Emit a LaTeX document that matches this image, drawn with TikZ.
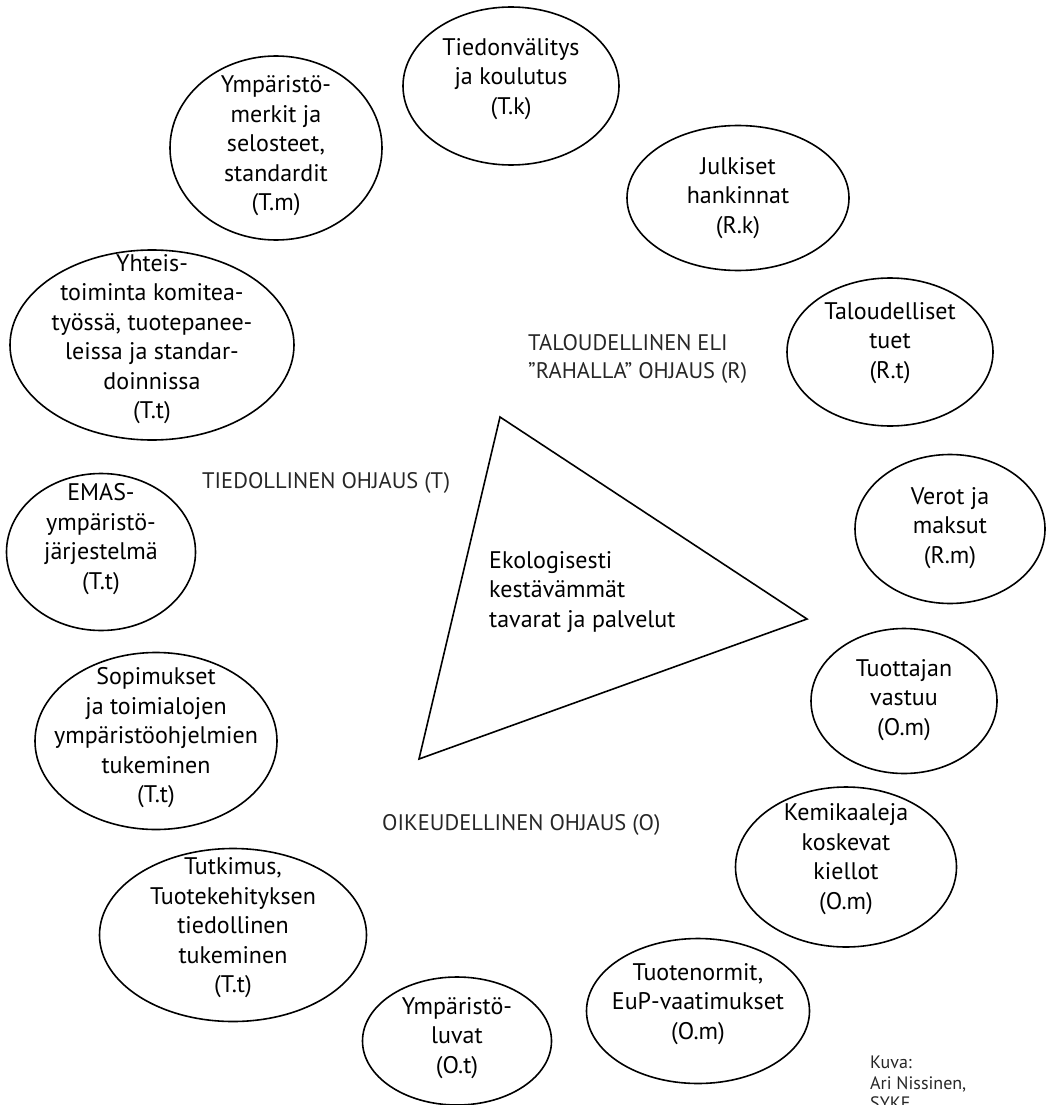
\documentclass[tikz,border=0pt]{standalone}
\usepackage{fontspec}
\setmainfont{PT Sans}
\usetikzlibrary{shapes.geometric}
\begin{document}
\begin{tikzpicture}[x=1pt,y=-1pt,
  ell/.style={draw, ellipse, line width=1.6pt, inner sep=0pt},
  txt/.style={align=center, font=\fontsize{24}{29.5}\selectfont, inner sep=0pt},
  lab/.style={align=left, font=\fontsize{22.5}{28}\selectfont, anchor=west, inner sep=0pt, text=black!85},
  note/.style={align=left, font=\fontsize{18}{20.5}\selectfont, anchor=west, inner sep=0pt, text=black!85},
]
\useasboundingbox (0,0) rectangle (1047,1105);

% ellipses
\node[ell, minimum width=216pt, minimum height=158pt] (tk) at (511,86) {};
\node[txt] (tkt) at (511,79) {Tiedonvälitys\\ja koulutus\\(T.k)};

\node[ell, minimum width=212pt, minimum height=184pt] (tm) at (276,148) {};
\node[txt] (tmt) at (276,146) {Ympäristö-\\merkit ja\\selosteet,\\standardit\\(T.m)};

\node[ell, minimum width=222pt, minimum height=145pt] (rk) at (738,198) {};
\node[txt] (rkt) at (738,198) {Julkiset\\hankinnat\\(R.k)};

\node[ell, minimum width=284pt, minimum height=190pt] (tt1) at (152,345) {};
\node[txt] (tt1t) at (152,339) {Yhteis-\\toiminta komitea-\\työssä, tuotepanee-\\leissa ja standar-\\doinnissa\\(T.t)};

\node[ell, minimum width=206pt, minimum height=148pt] (rt) at (890,352) {};
\node[txt] (rtt) at (890,343) {Taloudelliset\\tuet\\(R.t)};

\node[ell, minimum width=189pt, minimum height=157pt] (emas) at (101,552) {};
\node[txt] (emast) at (101,539) {EMAS-\\ympäristö-\\järjestelmä\\(T.t)};

\node[ell, minimum width=190pt, minimum height=149pt] (rm) at (950,529) {};
\node[txt] (rmt) at (950,528) {Verot ja\\maksut\\(R.m)};

\node[ell, minimum width=186pt, minimum height=145pt] (om1) at (904,701) {};
\node[txt] (om1t) at (904,700) {Tuottajan\\vastuu\\(O.m)};

\node[ell, minimum width=242pt, minimum height=177pt] (tt2) at (156,741) {};
\node[txt] (tt2t) at (156,738) {Sopimukset\\ja toimialojen\\ympäristöohjelmien\\tukeminen\\(T.t)};

\node[ell, minimum width=221pt, minimum height=160pt] (om2) at (846,867) {};
\node[txt] (om2t) at (846,859) {Kemikaaleja\\koskevat\\kiellot\\(O.m)};

\node[ell, minimum width=267pt, minimum height=173pt] (tt3) at (233,935) {};
\node[txt] (tt3t) at (233,928) {Tutkimus,\\Tuotekehityksen\\tiedollinen\\tukeminen\\(T.t)};

\node[ell, minimum width=189pt, minimum height=128pt] (ot) at (457,1041) {};
\node[txt] (ott) at (457,1038) {Ympäristö-\\luvat\\(O.t)};

\node[ell, minimum width=223pt, minimum height=145pt] (om3) at (698,1011) {};
\node[txt] (om3t) at (698,1004) {Tuotenormit,\\EuP-vaatimukset\\(O.m)};

% triangle
\coordinate (A) at (500,417);
\coordinate (B) at (807,619);
\coordinate (C) at (419,759);
\draw[line width=1.6pt, line join=miter] (A) -- (B) -- (C) -- cycle;
\node[txt, align=left, anchor=west] (centre) at (489,592) {Ekologisesti\\kestävämmät\\tavarat ja palvelut};

% group labels
\node[lab] (labR) at (528,359) {TALOUDELLINEN ELI\\”RAHALLA” OHJAUS (R)};
\node[lab] (labT) at (202,483) {TIEDOLLINEN OHJAUS (T)};
\node[lab] (labO) at (382,825) {OIKEUDELLINEN OHJAUS (O)};

% credit
\node[note] (kuva) at (870,1083) {Kuva:\\Ari Nissinen,\\SYKE};
\end{tikzpicture}
\end{document}
